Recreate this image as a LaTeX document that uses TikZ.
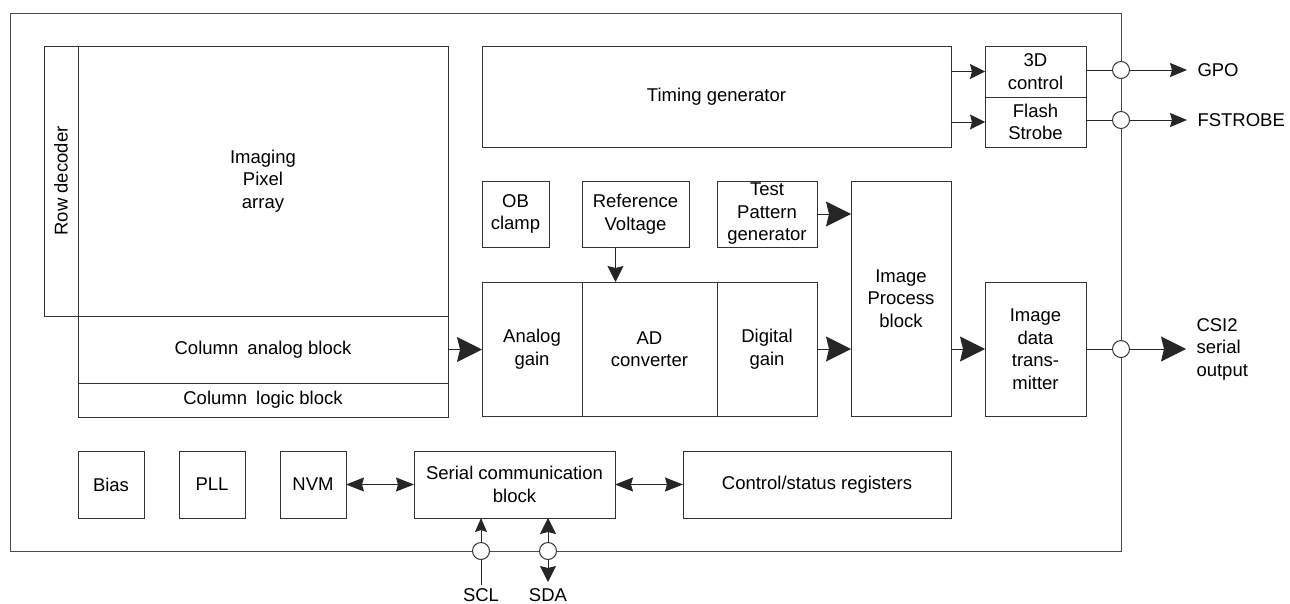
\documentclass[tikz,border=0pt]{standalone}
\usepackage{fontspec}
\setmainfont{Liberation Sans}
\usetikzlibrary{arrows.meta}
\begin{document}
\begin{tikzpicture}[x=1pt,y=-1pt,line width=1pt,
  txt/.style={font=\fontsize{18.5}{22.5}\selectfont},
  box/.style={txt,draw=black!80,line width=1pt,inner sep=0pt,outer sep=0pt,align=center,anchor=north west},
  pin/.style={circle,draw=black!80,fill=white,minimum size=17pt,inner sep=0pt,line width=1pt},
  lbl/.style={txt,inner sep=0pt,align=left},
  conn/.style={draw=black!85,line width=1pt},
  big/.style={conn,-{Stealth[length=25pt,width=25pt,inset=3pt]}},
  med/.style={conn,-{Stealth[length=16pt,width=16pt,inset=2pt]}},
  gp/.style={conn,-{Stealth[length=17pt,width=14pt,inset=2pt]}},
  up/.style={conn,-{Stealth[length=14pt,width=12pt,inset=2pt]}},
  bimed/.style={conn,{Stealth[length=18pt,width=14pt,inset=2pt]}-{Stealth[length=18pt,width=14pt,inset=2pt]}},
  sml/.style={conn,-{Stealth[length=15pt,width=15pt,inset=2pt]}}
]
\useasboundingbox (0,0) rectangle (1290,603);
% chip outline
\node[box,draw=black!70,minimum width=1111pt,minimum height=538pt] (chip) at (10,13) {};
% sensor array
\node[box,minimum width=34pt,minimum height=270pt] (rowdec) at (44,46) {\rotatebox{90}{Row decoder}};
\node[box,minimum width=370pt,minimum height=270pt] (pix) at (78,46) {Imaging\\Pixel\\array};
\node[box,minimum width=370pt,minimum height=67pt] (colan) at (78,316) {Column\kern4pt{} analog block};
\node[box,minimum width=370pt,minimum height=34pt] (collog) at (78,383) {Column\kern4pt{} logic block};
% timing
\node[box,minimum width=469pt,minimum height=101pt] (timing) at (482,46) {Timing generator};
\node[box,minimum width=101pt,minimum height=51pt] (d3) at (985,46) {3D\\control};
\node[box,minimum width=101pt,minimum height=50pt] (flash) at (985,97) {Flash\\Strobe};
% middle row
\node[box,minimum width=67pt,minimum height=66pt] (ob) at (482,181) {OB\\clamp};
\node[box,minimum width=107pt,minimum height=66pt] (ref) at (582,181) {Reference\\Voltage};
\node[box,minimum width=100pt,minimum height=66pt] (tpg) at (717,181) {Test\\Pattern\\generator};
\node[box,minimum width=100pt,minimum height=235pt] (ipb) at (851,181) {Image\\Process\\block};
\node[box,minimum width=100pt,minimum height=134pt] (again) at (482,282) {Analog\\gain};
\node[box,minimum width=135pt,minimum height=134pt] (adc) at (582,282) {AD\\converter};
\node[box,minimum width=100pt,minimum height=134pt] (dgain) at (717,282) {Digital\\gain};
\node[box,minimum width=101pt,minimum height=134pt] (idt) at (985,282) {Image\\data\\trans-\\mitter};
% bottom row
\node[box,minimum width=66pt,minimum height=67pt] (bias) at (78,451) {Bias};
\node[box,minimum width=66pt,minimum height=67pt] (pll) at (179,451) {PLL};
\node[box,minimum width=66pt,minimum height=67pt] (nvm) at (280,451) {NVM};
\node[box,minimum width=201pt,minimum height=67pt] (ser) at (414,451) {Serial communication\\block};
\node[box,minimum width=268pt,minimum height=67pt] (csr) at (683,451) {Control/status registers};
% pins
\node[pin] (cg) at (1121,70) {};
\node[pin] (cf) at (1121,120) {};
\node[pin] (cc) at (1121,349) {};
\node[pin] (cscl) at (481,551) {};
\node[pin] (csda) at (548,551) {};
% external labels
\node[lbl,anchor=west] (gpo) at (1197,70) {GPO};
\node[lbl,anchor=west] (fs) at (1197,120) {FSTROBE};
\node[lbl,anchor=west] (csi) at (1196,349) {CSI2\\serial\\output};
\node[lbl,anchor=base] (scl) at (481,601) {SCL};
\node[lbl,anchor=base] (sda) at (548,601) {SDA};
\coordinate (sclend) at (481,585);
\coordinate (sdaend) at (548,582);
% connectors
\draw[sml] (timing.east |- d3.west) -- (d3.west);
\draw[sml] (timing.east |- flash.west) -- (flash.west);
\draw[conn] (d3.east |- cg) -- (cg);
\draw[conn] (flash.east |- cf) -- (cf);
\draw[gp,shorten >=10pt] (cg) -- (gpo.west);
\draw[gp,shorten >=10pt] (cf) -- (fs.west);
\draw[big] (colan.east) -- (colan.east -| again.west);
\draw[med] ([xshift=-20pt]ref.south) -- ([xshift=-20pt]ref.south |- adc.north);
\draw[big] (tpg.east) -- (tpg.east -| ipb.west);
\draw[big] (dgain.east) -- (dgain.east -| ipb.west);
\draw[big] (idt.west -| ipb.east) -- (idt.west);
\draw[conn] (idt.east) -- (cc);
\draw[big,shorten >=10pt] (cc) -- (cc -| csi.west);
\draw[bimed] (nvm.east) -- (ser.west);
\draw[bimed] (ser.east) -- (csr.west);
\draw[up] (cscl) -- (cscl |- ser.south);
\draw[conn] (cscl) -- (sclend);
\draw[med] (csda) -- (csda |- ser.south);
\draw[med] (csda) -- (sdaend);
\end{tikzpicture}
\end{document}
